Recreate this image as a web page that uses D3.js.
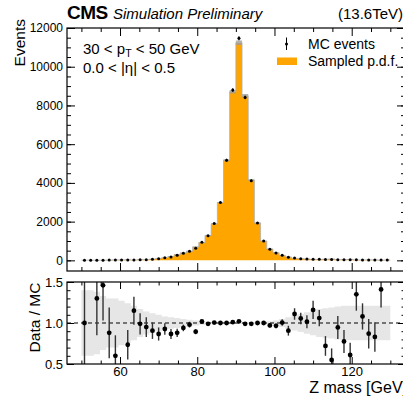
<!DOCTYPE html>
<html>
<head>
<meta charset="utf-8">
<script src="https://cdn.jsdelivr.net/npm/d3@7"></script>
<style>
  body { margin: 0; background: #fff; }
  svg { display: block; font-family: "Liberation Sans", Arial, sans-serif; }
</style>
</head>
<body>
<div id="chart"></div>
<script>
// bin edges of the Z mass histogram (GeV)
const binEdges = [50, 51.6, 53.2, 54.8, 56.4, 58, 59.6, 61.2, 62.8, 64.4, 66, 67.6, 69.2, 70.8,
  72.4, 74, 75.6, 77.2, 78.8, 80.4, 82, 83.6, 85.2, 86.8, 88.4, 90, 91.6, 93.2, 94.8, 96.4, 98,
  99.6, 101.2, 102.8, 104.4, 106, 107.6, 109.2, 110.8, 112.4, 114, 115.6, 117.2, 118.8, 120.4,
  122, 123.6, 125.2, 126.8, 128.4, 130];

// MC events (points)
const mcEvents = [6, 8, 9, 11, 13, 15, 17, 19, 22, 27, 34, 60, 86, 130, 172, 258, 362, 465, 620,
  931, 1276, 1897, 2985, 5173, 8794, 11469, 8417, 4110, 1931, 1000, 569, 378, 259, 155, 121,
  86, 69, 60, 52, 45, 40, 35, 30, 28, 25, 22, 20, 18, 17, 16];

// sampled p.d.f. (orange histogram)
const pdfValues = [6, 9, 7, 8, 14, 22, 20, 26, 19, 27, 36, 66, 99, 140, 199, 293, 385, 474, 694,
  916, 1289, 1890, 2990, 5170, 8710, 11240, 8500, 4150, 1931, 1000, 587, 392, 258, 171, 109,
  81, 68, 52, 49, 62, 70, 37, 39, 46, 19, 20, 23, 22, 12, 17];

// relative uncertainty of the p.d.f. (grey band)
const pdfUnc = [0.4, 0.4, 0.38, 0.33, 0.3, 0.3, 0.27, 0.24, 0.21, 0.17, 0.14, 0.12, 0.1, 0.08,
  0.07, 0.06, 0.05, 0.04, 0.03, 0.02, 0.015, 0.012, 0.01, 0.01, 0.01, 0.01, 0.01, 0.01, 0.012,
  0.015, 0.02, 0.03, 0.05, 0.07, 0.09, 0.11, 0.13, 0.15, 0.17, 0.18, 0.19, 0.2, 0.21, 0.21,
  0.21, 0.21, 0.21, 0.21, 0.21, 0.21];

// Data / MC ratio and its error (null = out of range)
const ratio = [1.0, null, 1.3, 1.46, 0.88, 0.6, null, 0.735, 1.15, 0.99, 0.95, 0.906, 0.866,
  0.927, 0.866, 0.88, 0.94, 0.98, 0.894, 1.018, 0.99, 1.005, 1.0, 1.0, 1.01, 1.02, 0.99, 0.99,
  1.0, 1.0, 0.97, 0.965, 1.005, 0.906, 1.11, 1.056, 1.016, 1.16, 1.06, 0.72, 0.55, 0.946,
  0.775, 0.61, 1.35, 1.08, 0.87, 0.83, 1.41, null];
const ratioErr = [0.9, null, 0.45, 0.43, 0.31, 0.25, null, 0.18, 0.17, 0.13, 0.12, 0.1, 0.08,
  0.07, 0.06, 0.05, 0.04, 0.035, 0.03, 0.02, 0.015, 0.015, 0.015, 0.015, 0.015, 0.015, 0.015,
  0.015, 0.015, 0.02, 0.025, 0.03, 0.04, 0.06, 0.07, 0.07, 0.08, 0.11, 0.1, 0.12, 0.14, 0.14,
  0.14, 0.15, 0.2, 0.16, 0.18, 0.18, 0.22, null];

const xTicks = [60, 80, 100, 120];
const xMinor = [50, 55, 65, 70, 75, 85, 90, 95, 105, 110, 115, 125, 130];
const yTicksTop = [0, 2000, 4000, 6000, 8000, 10000, 12000];
const yTicksRatio = [0.5, 1.0, 1.5];

const W = 403, H = 398;
const L = 67, R = 405;

const svg = d3.select("#chart").append("svg")
  .attr("width", W).attr("height", H);

const x = d3.scaleLinear().domain([46.27, 133.8]).range([L, R]);
const yTop = d3.scaleLinear().domain([-550, 12000]).range([271, 28]);
const yRat = d3.scaleLinear().domain([0.5, 1.5]).range([364, 282]);

const bins = mcEvents.map((v, i) => ({
  lo: binEdges[i], hi: binEdges[i + 1], c: (binEdges[i] + binEdges[i + 1]) / 2,
  mc: v, pdf: pdfValues[i], unc: pdfUnc[i], r: ratio[i], re: ratioErr[i]
}));
// extra point so the step closes on the last edge
const steps = bins.concat([{ ...bins[bins.length - 1], lo: binEdges[binEdges.length - 1] }]);

const defs = svg.append("defs");
defs.append("clipPath").attr("id", "clipTop").append("rect")
  .attr("x", L).attr("y", 28).attr("width", R - L).attr("height", 271 - 28);
defs.append("clipPath").attr("id", "clipRat").append("rect")
  .attr("x", L).attr("y", 282).attr("width", R - L).attr("height", 364 - 282);

// ---------- top panel ----------
const gt = svg.append("g").attr("clip-path", "url(#clipTop)");

gt.append("path")
  .datum(steps)
  .attr("fill", "#ffa500")
  .attr("d", d3.area().curve(d3.curveStepAfter)
    .x(d => x(d.lo)).y0(yTop(0)).y1(d => yTop(d.pdf)));

gt.append("path")
  .datum(steps)
  .attr("fill", "#9a9a9a").attr("opacity", 0.75)
  .attr("d", d3.area().curve(d3.curveStepAfter)
    .x(d => x(d.lo)).y0(d => yTop(d.pdf * (1 - d.unc))).y1(d => yTop(d.pdf * (1 + d.unc))));

gt.append("path")
  .datum(steps)
  .attr("fill", "none").attr("stroke", "#b0b0b0").attr("stroke-width", 0.8)
  .attr("d", d3.line().curve(d3.curveStepAfter).x(d => x(d.lo)).y(d => yTop(d.pdf)));

gt.selectAll("line.err").data(bins).join("line")
  .attr("x1", d => x(d.c)).attr("x2", d => x(d.c))
  .attr("y1", d => yTop(d.mc + Math.sqrt(d.mc))).attr("y2", d => yTop(d.mc - Math.sqrt(d.mc)))
  .attr("stroke", "#000").attr("stroke-width", 1);

gt.selectAll("circle").data(bins).join("circle")
  .attr("cx", d => x(d.c)).attr("cy", d => yTop(d.mc)).attr("r", 1.5)
  .attr("fill", "#000");

// ---------- ratio panel ----------
const gr = svg.append("g").attr("clip-path", "url(#clipRat)");

gr.append("path")
  .datum(steps)
  .attr("fill", "#e6e6e6")
  .attr("d", d3.area().curve(d3.curveStepAfter)
    .x(d => x(d.lo)).y0(d => yRat(1 - d.unc)).y1(d => yRat(1 + d.unc)));

gr.append("line")
  .attr("x1", L).attr("x2", R).attr("y1", yRat(1)).attr("y2", yRat(1))
  .attr("stroke", "#000").attr("stroke-width", 1).attr("stroke-dasharray", "4,3");

const rb = bins.filter(d => d.r != null);
gr.selectAll("line.rerr").data(rb).join("line")
  .attr("x1", d => x(d.c)).attr("x2", d => x(d.c))
  .attr("y1", d => yRat(d.r + d.re)).attr("y2", d => yRat(d.r - d.re))
  .attr("stroke", "#333").attr("stroke-width", 1.4);
gr.selectAll("circle").data(rb).join("circle")
  .attr("cx", d => x(d.c)).attr("cy", d => yRat(d.r)).attr("r", 2.4)
  .attr("fill", "#000");

// ---------- frames & ticks ----------
function frame(y, top, bottom, yMajor, yMinor, majLen, minLen, showX) {
  const g = svg.append("g");
  const ax = g.append("g").attr("transform", `translate(0,${bottom})`)
    .call(d3.axisBottom(x).tickValues(xTicks).tickSize(-majLen).tickPadding(3)
      .tickFormat(showX ? d3.format("d") : ""));
  ax.selectAll("text").style("font-size", "13px").attr("fill", "#000");
  g.append("g").attr("transform", `translate(0,${bottom})`)
    .call(d3.axisBottom(x).tickValues(xMinor).tickSize(-minLen).tickFormat(""));
  g.append("g").attr("transform", `translate(0,${top})`)
    .call(d3.axisTop(x).tickValues(xTicks).tickSize(-majLen).tickFormat(""));
  g.append("g").attr("transform", `translate(0,${top})`)
    .call(d3.axisTop(x).tickValues(xMinor).tickSize(-minLen).tickFormat(""));

  const ay = g.append("g").attr("transform", `translate(${L},0)`)
    .call(d3.axisLeft(y).tickValues(yMajor).tickSize(-majLen).tickPadding(4)
      .tickFormat(d => top < 100 ? d3.format("d")(d) : d3.format(".1f")(d)));
  ay.selectAll("text").style("font-size", top < 100 ? "12px" : "13px").attr("fill", "#000");
  g.append("g").attr("transform", `translate(${L},0)`)
    .call(d3.axisLeft(y).tickValues(yMinor).tickSize(-minLen).tickFormat(""));
  g.append("g").attr("transform", `translate(${R},0)`)
    .call(d3.axisRight(y).tickValues(yMajor).tickSize(-majLen).tickFormat(""));
  g.append("g").attr("transform", `translate(${R},0)`)
    .call(d3.axisRight(y).tickValues(yMinor).tickSize(-minLen).tickFormat(""));

  g.selectAll(".domain").remove();
  g.selectAll(".tick line").attr("stroke", "#000");
  g.append("rect").attr("x", L).attr("y", top).attr("width", R - L).attr("height", bottom - top)
    .attr("fill", "none").attr("stroke", "#000").attr("stroke-width", 1.2);
}

frame(yTop, 28, 271, yTicksTop, d3.range(0, 12001, 500), 8, 4, false);
frame(yRat, 282, 364, yTicksRatio, d3.range(0.5, 1.51, 0.1), 7, 3.5, true);

// ---------- texts ----------
svg.append("text").attr("x", 67).attr("y", 18.5)
  .style("font-size", "19px").style("font-weight", "bold").style("letter-spacing", "-0.5px")
  .text("CMS");
svg.append("text").attr("x", 113).attr("y", 18.5)
  .style("font-size", "15px").style("font-style", "italic").text("Simulation Preliminary");
svg.append("text").attr("x", 338).attr("y", 18.5)
  .style("font-size", "15px").text("(13.6TeV)");

svg.append("text").attr("transform", "translate(25,19) rotate(-90)")
  .attr("text-anchor", "end").style("font-size", "15.5px").text("Events");
svg.append("text").attr("transform", "translate(40,317.5) rotate(-90)")
  .attr("text-anchor", "middle").style("font-size", "15.5px").text("Data / MC");
svg.append("text").attr("x", 407).attr("y", 393)
  .attr("text-anchor", "end").style("font-size", "16px").text("Z mass [GeV]");

const t1 = svg.append("text").attr("x", 83).attr("y", 53.5).style("font-size", "15px");
t1.append("tspan").text("30 < p");
t1.append("tspan").attr("dy", 3).style("font-size", "10.5px").text("T");
t1.append("tspan").attr("dy", -3).text(" < 50 GeV");
svg.append("text").attr("x", 83).attr("y", 72.5).style("font-size", "15px")
  .text("0.0 < |η| < 0.5");

// legend
svg.append("line").attr("x1", 286.5).attr("x2", 286.5).attr("y1", 37.5).attr("y2", 50)
  .attr("stroke", "#000").attr("stroke-width", 1);
svg.append("circle").attr("cx", 286.5).attr("cy", 44).attr("r", 1.5).attr("fill", "#000");
svg.append("text").attr("x", 308).attr("y", 48.5).style("font-size", "14px").text("MC events");
svg.append("rect").attr("x", 277).attr("y", 57.5).attr("width", 20).attr("height", 7.5)
  .attr("fill", "#ffa500");
svg.append("text").attr("x", 308).attr("y", 66).style("font-size", "14px").text("Sampled p.d.f.");
</script>
</body>
</html>
